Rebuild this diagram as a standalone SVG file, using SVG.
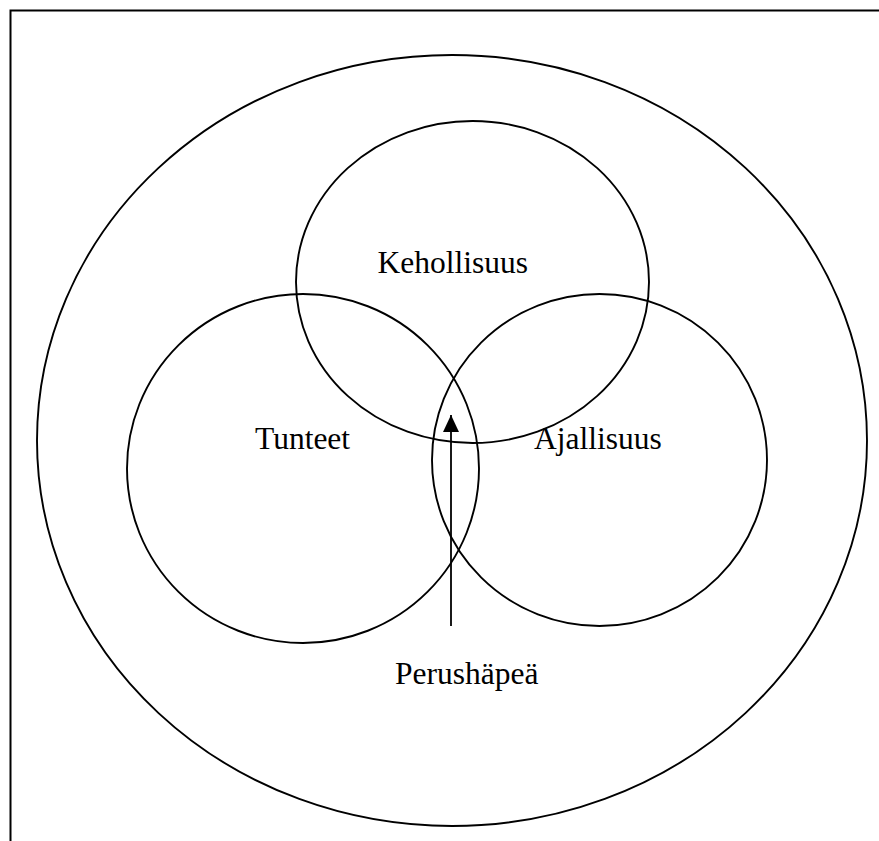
<svg xmlns="http://www.w3.org/2000/svg" width="879" height="841" viewBox="0 0 879 841">
  <style>
    .shape { fill: none; stroke: #000; stroke-width: 1.9; }
    .frame { fill: none; stroke: #000; stroke-width: 2; }
    .label { font-family: "Liberation Serif", "Times New Roman", serif; font-size: 31.5px; fill: #000; }
  </style>
  <defs>
    <marker id="arrowhead" markerWidth="17" markerHeight="16" refX="17" refY="8" orient="auto" markerUnits="userSpaceOnUse" viewBox="0 0 17 16">
      <polygon points="0,0 17,8 0,16" fill="#000"/>
    </marker>
  </defs>
  <rect width="879" height="841" fill="#fff"/>
  <path class="frame" d="M10.5 841 V10.5 H879"/>
  <g id="outer">
    <ellipse class="shape" cx="452" cy="440.5" rx="415" ry="385.5"/>
  </g>
  <g id="kehollisuus">
    <ellipse class="shape" cx="472.5" cy="282" rx="176.5" ry="161"/>
    <text class="label" x="377.5" y="273">Kehollisuus</text>
  </g>
  <g id="tunteet">
    <ellipse class="shape" cx="303" cy="468.5" rx="176" ry="174.5"/>
    <text class="label" x="255" y="449">Tunteet</text>
  </g>
  <g id="ajallisuus">
    <ellipse class="shape" cx="599.5" cy="460" rx="167.5" ry="166"/>
    <text class="label" x="534" y="449">Ajallisuus</text>
  </g>
  <g id="perushapea">
    <text class="label" x="395" y="684">Perushäpeä</text>
  </g>
  <g id="connectors">
    <line x1="451" y1="626" x2="451" y2="415" stroke="#000" stroke-width="1.8" marker-end="url(#arrowhead)"/>
  </g>
</svg>
